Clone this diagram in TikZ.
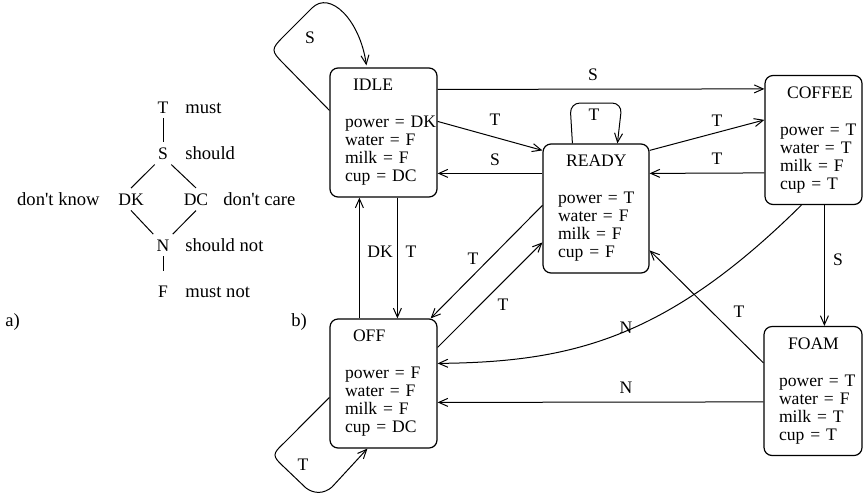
\documentclass[tikz,border=0pt]{standalone}
\usepackage{fontspec}
\setmainfont{Liberation Serif}
\newfontfamily\figfont{Liberation Serif}
\usepackage{tikz}
\usetikzlibrary{arrows.meta,calc}
\hfuzz=50pt
\hyphenpenalty=10000

\begin{document}
\begin{tikzpicture}[
  x=0.5pt,y=-0.5pt,
  font=\figfont\fontsize{8.8}{9}\selectfont,
  stbox/.style={draw,line width=0.6pt,rounded corners=4pt,align=left,text width=#1,inner xsep=7.5pt,inner ysep=0pt,minimum height=64.5pt},
  val/.style={inner xsep=1.5pt,inner ysep=2.5pt,anchor=base},
  txt/.style={inner sep=0pt,font=\figfont\fontsize{9.3}{10}\selectfont},
  lbl/.style={inner sep=0pt},
  ln/.style={line width=0.5pt},
  ar/.style={-{Straight Barb[length=4.5pt,width=4pt]},line width=0.5pt}
]
\useasboundingbox (0,0) rectangle (865,493);

% ---- a) : the six truth values
\node[val] (vT) at (163,113) {T};
\node[val] (vS) at (163,159) {S};
\node[val] (vDK) at (131,205) {DK};
\node[val] (vDC) at (196,205) {DC};
\node[val] (vN) at (163,251) {N};
\node[val] (vF) at (163,297) {F};
\node[txt,anchor=base west] (tMust) at (185,113) {must};
\node[txt,anchor=base west] (tShould) at (185,159) {should};
\node[txt,anchor=base east] (tKnow) at (100,205) {don't know};
\node[txt,anchor=base west] (tCare) at (223,205) {don't care};
\node[txt,anchor=base west] (tShNot) at (185,251) {should not};
\node[txt,anchor=base west] (tMuNot) at (185,297) {must not};
\draw[ln] (vT) -- (vS);
\draw[ln] (vS.south west) -- (vDK.north); \draw[ln] (vS.south east) -- (vDC.north);
\draw[ln] (vDK.south) -- (vN.north west); \draw[ln] (vDC.south) -- (vN.north east);
\draw[ln,shorten >=4.5pt] (vN) -- (vF);
\node[txt,anchor=base west] (capA) at (5,326) {a)};

% ---- b) : states of the machine
\node[txt,anchor=base west] (capB) at (291,326) {b)};
\node[stbox=38.5pt] (idle) at (383.5,132.5) {\hspace*{4pt}IDLE\\[9.5pt]power~=~DK\\water~=~F\\milk~=~F\\cup~=~DC};
\node[stbox=38pt] (ready) at (596,208.5) {\hspace*{4pt}READY\\[9.5pt]power~=~T\\water~=~F\\milk~=~F\\cup~=~F};
\node[stbox=33.5pt] (coffee) at (813.5,140) {\hspace*{3.5pt}COFFEE\\[9.5pt]power~=~T\\water~=~T\\milk~=~F\\cup~=~T};
\node[stbox=38.5pt] (off) at (383.5,383.5) {\hspace*{4pt}OFF\\[9.5pt]power~=~F\\water~=~F\\milk~=~F\\cup~=~DC};
\node[stbox=34pt] (foam) at (813,391) {\hspace*{4.5pt}FOAM\\[9.5pt]power~=~T\\water~=~F\\milk~=~T\\cup~=~T};

% ---- transitions
\draw[ar] ($(idle.north west)+(0,43)$) -- (283,63) .. controls (271,51) and (271,49) .. (283,37)
  -- (312,8) .. controls (330,-10) and (360,20) .. ($(idle.north west)+(37,-2)$);
\draw[ar] ($(idle.north east)+(0,22)$) -- ($(coffee.north west)+(0,14)$);
\draw[ar] ($(idle.north east)+(0,54)$) -- ($(ready.north west)+(0,7)$);
\draw[ar] ($(ready.north west)+(0,30)$) -- ($(idle.north east)+(0,106)$);
\draw[ar,rounded corners=5pt] ($(ready.north west)+(30,0)$) -- (570,103) -- (622,103) -- ($(ready.north west)+(75,0)$);
\draw[ar] ($(ready.north east)+(0,7)$) -- ($(coffee.north west)+(0,45)$);
\draw[ar] ($(coffee.north west)+(0,98)$) -- ($(ready.north east)+(0,30)$);
\draw[ar] ($(coffee.south west)+(60,0)$) -- ($(foam.north west)+(61,0)$);
\draw[ar] ($(coffee.south west)+(37,0)$) .. controls (665,340) and (570,362) .. ($(off.north east)+(0,45)$);
\draw[ar] ($(foam.north west)+(0,37)$) -- ($(ready.north east)+(0,107)$);
\draw[ar] ($(foam.north west)+(0,76)$) -- ($(off.north east)+(0,84)$);
\draw[ar] ($(idle.south west)+(68,0)$) -- ($(off.north west)+(68,0)$);
\draw[ar] ($(off.north west)+(30,0)$) -- ($(idle.south west)+(30,0)$);
\draw[ar] ($(ready.north west)+(0,62)$) -- ($(off.north east)+(-7,0)$);
\draw[ar] ($(off.north east)+(0,29)$) -- ($(ready.north west)+(0,99)$);
\draw[ar] ($(off.north west)+(0,79)$) -- (284,443) .. controls (272,454) and (272,456) .. (284,467)
  -- (306,488) .. controls (314,494) and (324,494) .. (332,487) -- ($(off.south west)+(38,0)$);

% ---- transition labels
\node[lbl] (eS1) at (310,38) {S};
\node[lbl] (eS2) at (593,75) {S};
\node[lbl] (eT1) at (495,120) {T};
\node[lbl] (eS3) at (495,160) {S};
\node[lbl] (eT2) at (594,115) {T};
\node[lbl] (eT3) at (717,121) {T};
\node[lbl] (eT4) at (717,159) {T};
\node[lbl] (eS4) at (838,260) {S};
\node[lbl] (eN1) at (626,328) {N};
\node[lbl] (eT5) at (739,312) {T};
\node[lbl] (eN2) at (626,388) {N};
\node[lbl] (eDK) at (380,252) {DK};
\node[lbl] (eT6) at (411,252) {T};
\node[lbl] (eT7) at (473,259) {T};
\node[lbl] (eT8) at (503,305) {T};
\node[lbl] (eT9) at (303,465) {T};
\end{tikzpicture}
\end{document}
